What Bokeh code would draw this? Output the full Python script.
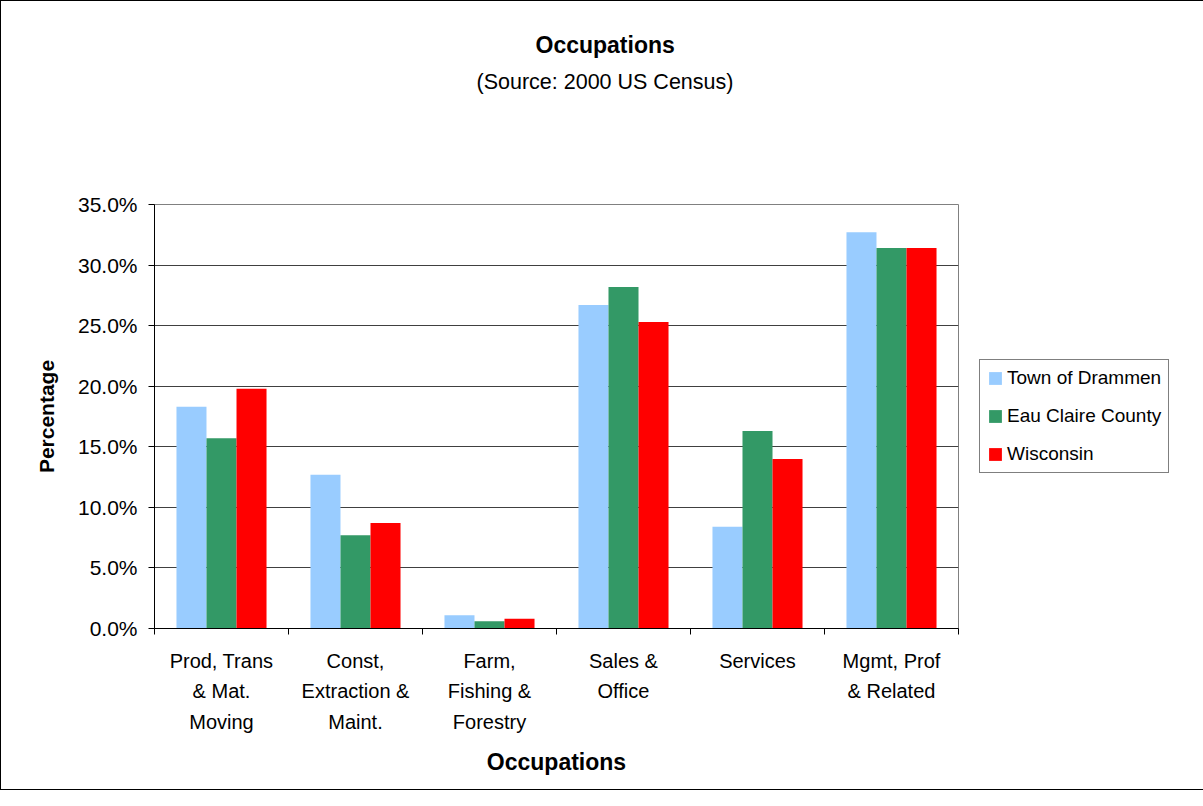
from bokeh.plotting import figure
from bokeh.models import (Range1d, FixedTicker, Legend, LegendItem, Title,
                          ColumnDataSource)
from bokeh.embed import file_html
from bokeh.resources import INLINE

categories = ["Prod, Trans\n& Mat.\nMoving", "Const,\nExtraction &\nMaint.",
              "Farm,\nFishing &\nForestry", "Sales &\nOffice", "Services",
              "Mgmt, Prof\n& Related"]
series_names = ["Town of Drammen", "Eau Claire County", "Wisconsin"]
drammen = [18.3, 12.7, 1.1, 26.7, 8.4, 32.7]
eau_claire = [15.7, 7.7, 0.6, 28.2, 16.3, 31.4]
wisconsin = [19.8, 8.7, 0.8, 25.3, 14.0, 31.4]
y_ticks = [0, 5, 10, 15, 20, 25, 30, 35]

colors = ["#99CCFF", "#339966", "#FF0000"]
FONT = "Liberation Sans"

p = figure(frame_width=804, frame_height=424, output_backend="svg",
           toolbar_location=None, title=None,
           x_range=Range1d(0, 6), y_range=Range1d(0, 35),
           min_border_left=153, min_border_right=228,
           min_border_top=203, min_border_bottom=161)
p.styles = {"border": "1px solid #000000"}
p.outline_line_color = "#808080"
p.outline_line_width = 1
p.xgrid.grid_line_color = None
p.ygrid.grid_line_color = "#404040"
p.ygrid.grid_line_width = 1
p.ygrid.ticker = FixedTicker(ticks=y_ticks)

centers = [i + 0.5 for i in range(len(categories))]
bw = 0.224
renderers = []
for k, (vals, col) in enumerate(zip([drammen, eau_claire, wisconsin], colors)):
    src = ColumnDataSource(dict(x=[c + (k - 1) * bw for c in centers], top=vals))
    r = p.vbar(x="x", top="top", width=bw, source=src, fill_color=col,
               line_color=None)
    renderers.append(r)

# y axis
yax = p.yaxis[0]
yax.ticker = FixedTicker(ticks=y_ticks)
yax.major_label_overrides = {t: f"{t:.1f}%" for t in y_ticks}
yax.axis_line_color = "#000000"
yax.major_tick_line_color = "#000000"
yax.major_tick_out = 6
yax.major_tick_in = 0
yax.minor_tick_line_color = None
yax.major_label_text_font = FONT
yax.major_label_text_font_size = "21px"
yax.major_label_text_color = "#000000"
yax.major_label_standoff = 11
yax.axis_label = "Percentage"
yax.axis_label_text_font = FONT
yax.axis_label_text_font_size = "21px"
yax.axis_label_text_font_style = "bold"
yax.axis_label_text_color = "#000000"
yax.axis_label_standoff = 17

# x axis
xax = p.xaxis[0]
xax.ticker = FixedTicker(ticks=centers, minor_ticks=list(range(7)))
xax.major_label_overrides = {c: lab for c, lab in zip(centers, categories)}
xax.major_tick_line_color = None
xax.minor_tick_line_color = "#000000"
xax.minor_tick_out = 6
xax.minor_tick_in = 0
xax.axis_line_color = "#000000"
xax.major_label_text_font = FONT
xax.major_label_text_font_size = "20px"
xax.major_label_text_color = "#000000"
xax.major_label_text_line_height = 1.4
xax.major_label_standoff = 15
xax.axis_label = "Occupations"
xax.axis_label_text_font = FONT
xax.axis_label_text_font_size = "23px"
xax.axis_label_text_font_style = "bold"
xax.axis_label_text_color = "#000000"
xax.axis_label_standoff = 13

legend = Legend(items=[LegendItem(label=n, renderers=[r]) for n, r in zip(series_names, renderers)],
                location="left")
legend.label_text_font = FONT
legend.label_text_font_size = "19px"
legend.label_text_color = "#000000"
legend.glyph_width = 16
legend.glyph_height = 16
legend.label_height = 20
legend.spacing = 16
legend.padding = 7
legend.margin = 21
legend.label_standoff = 4
legend.border_line_color = "#000000"
legend.border_line_width = 1
legend.background_fill_alpha = 1
p.add_layout(legend, "right")

spacer = Title(text=" ", text_font=FONT, text_font_size="10px", standoff=88)
sub = Title(text="(Source: 2000 US Census)", text_font=FONT, text_font_size="21.5px",
            text_font_style="normal", text_color="#000000", align="left",
            offset=322, standoff=20)
main = Title(text="Occupations", text_font=FONT, text_font_size="23px",
             text_font_style="bold", text_color="#000000", align="left",
             offset=381, standoff=0)
p.add_layout(spacer, "above")
p.add_layout(sub, "above")
p.add_layout(main, "above")

open("out.html", "w").write(file_html(p, INLINE))
